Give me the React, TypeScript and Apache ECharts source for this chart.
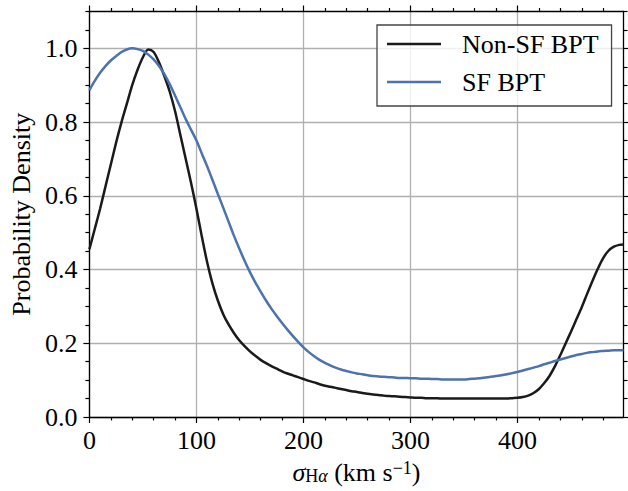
import { useEffect, useRef } from 'react';
import * as echarts from 'echarts';

const xValues = [
  0, 5, 10, 15, 20, 25, 30, 35, 40, 45, 50, 55, 60, 65, 70, 75, 80, 85, 90, 95,
  100, 105, 110, 115, 120, 125, 130, 135, 140, 145, 150, 155, 160, 165, 170, 175, 180, 185, 190, 195,
  200, 205, 210, 215, 220, 225, 230, 235, 240, 245, 250, 255, 260, 265, 270, 275, 280, 285, 290, 295,
  300, 305, 310, 315, 320, 325, 330, 335, 340, 345, 350, 355, 360, 365, 370, 375, 380, 385, 390, 395,
  400, 405, 410, 415, 420, 425, 430, 435, 440, 445, 450, 455, 460, 465, 470, 475, 480, 485, 490, 495, 499,
];

const nonSfBpt = [
  0.455, 0.51, 0.565, 0.625, 0.685, 0.745, 0.8, 0.85, 0.9, 0.942, 0.976, 0.997, 0.99, 0.962, 0.925, 0.883, 0.83, 0.765, 0.7, 0.635,
  0.565, 0.49, 0.42, 0.362, 0.316, 0.279, 0.251, 0.228, 0.208, 0.192, 0.178, 0.166, 0.155, 0.146, 0.138, 0.131, 0.124, 0.118, 0.113, 0.108,
  0.103, 0.098, 0.094, 0.089, 0.085, 0.082, 0.079, 0.076, 0.073, 0.07, 0.068, 0.065, 0.063, 0.061, 0.06, 0.058, 0.057, 0.056, 0.055, 0.054,
  0.053, 0.052, 0.052, 0.051, 0.051, 0.051, 0.05, 0.05, 0.05, 0.05, 0.05, 0.05, 0.05, 0.05, 0.05, 0.05, 0.05, 0.05, 0.05, 0.051,
  0.052, 0.054, 0.058, 0.065, 0.076, 0.092, 0.112, 0.138, 0.168, 0.2, 0.232, 0.265, 0.298, 0.334, 0.369, 0.402, 0.431, 0.451, 0.462, 0.467, 0.468,
];

const sfBpt = [
  0.887, 0.912, 0.934, 0.952, 0.967, 0.979, 0.99, 0.997, 1.0, 0.998, 0.993, 0.983, 0.97, 0.952, 0.93, 0.903, 0.872, 0.84, 0.808, 0.779,
  0.75, 0.715, 0.68, 0.643, 0.605, 0.568, 0.53, 0.492, 0.457, 0.424, 0.393, 0.365, 0.34, 0.316, 0.294, 0.274, 0.255, 0.237, 0.22, 0.204,
  0.189, 0.176, 0.165, 0.155, 0.147, 0.14, 0.134, 0.129, 0.125, 0.121, 0.118, 0.116, 0.113, 0.111, 0.11, 0.109, 0.108, 0.107, 0.106, 0.106,
  0.105, 0.105, 0.104, 0.104, 0.103, 0.103, 0.102, 0.102, 0.102, 0.102, 0.102, 0.103, 0.104, 0.105, 0.107, 0.109, 0.111, 0.113, 0.116, 0.119,
  0.122, 0.126, 0.13, 0.134, 0.138, 0.143, 0.147, 0.152, 0.156, 0.16, 0.164, 0.168, 0.171, 0.174, 0.176, 0.178, 0.179, 0.18, 0.181, 0.181, 0.181,
];

const seriesNames = ['Non-SF BPT', 'SF BPT'];
const xMajorTicks = [0, 100, 200, 300, 400];
const xMinorTicks = [20, 40, 60, 80, 120, 140, 160, 180, 220, 240, 260, 280, 320, 340, 360, 380, 420, 440, 460, 480];
const yMajorTicks = [0, 0.2, 0.4, 0.6, 0.8, 1.0];
const yMinorTicks = [0.05, 0.1, 0.15, 0.25, 0.3, 0.35, 0.45, 0.5, 0.55, 0.65, 0.7, 0.75, 0.85, 0.9, 0.95, 1.05, 1.1];

const X_MIN = 0;
const X_MAX = 499;
const Y_MIN = 0;
const Y_MAX = 1.1;

const FONT = 'Liberation Serif';
const SPINE = { color: '#000', width: 1.3 };

function makeAxis(kind: 'x' | 'y', position: string, ticks: number[], len: number, main: boolean, lineShow: boolean) {
  const isX = kind === 'x';
  const ax: any = {
    type: 'value',
    position,
    min: isX ? X_MIN : Y_MIN,
    max: isX ? X_MAX : Y_MAX,
    interval: isX ? 100 : 0.2,
    offset: 0,
    axisLine: { show: lineShow, onZero: false, lineStyle: SPINE },
    axisTick: { show: true, inside: false, length: len, customValues: ticks, lineStyle: { color: '#000', width: 1.2 } },
    axisLabel: { show: false },
    splitLine: { show: false },
    minorTick: { show: false },
  };
  if (main) {
    ax.axisLabel = {
      show: true,
      customValues: ticks,
      fontFamily: FONT,
      fontSize: 26,
      color: '#000',
      margin: isX ? 10 : 12,
      formatter: (v: number) => (isX ? String(Math.round(v)) : v.toFixed(1)),
    };
    ax.splitLine = { show: true, lineStyle: { color: '#b0b0b0', width: 1.3 } };
  }
  return ax;
}

export default function App() {
  const ref = useRef<HTMLDivElement>(null);

  useEffect(() => {
    document.body.style.margin = '0';
    if (!ref.current) return;
    const chart = echarts.init(ref.current, null, { renderer: 'svg' });

    const xMain = makeAxis('x', 'bottom', xMajorTicks, 6, true, true);
    xMain.name = '{s|σ}{h|H}{a|α}{t| (km s}{p|−1}{t|)}';
    xMain.nameLocation = 'middle';
    xMain.nameGap = 42;
    xMain.nameTextStyle = {
      fontFamily: FONT,
      fontSize: 26,
      color: '#000',
      rich: {
        s: { fontFamily: FONT, fontSize: 26, fontStyle: 'italic', lineHeight: 26, color: '#000' },
        h: { fontFamily: FONT, fontSize: 18, lineHeight: 14, verticalAlign: 'bottom', color: '#000' },
        a: { fontFamily: FONT, fontSize: 18, fontStyle: 'italic', lineHeight: 14, verticalAlign: 'bottom', color: '#000' },
        t: { fontFamily: FONT, fontSize: 26, lineHeight: 26, color: '#000' },
        p: { fontFamily: FONT, fontSize: 18, lineHeight: 14, verticalAlign: 'top', color: '#000' },
      },
    };

    const yMain = makeAxis('y', 'left', yMajorTicks, 6, true, true);
    yMain.name = 'Probability Density';
    yMain.nameLocation = 'middle';
    yMain.nameGap = 53;
    yMain.nameTextStyle = { fontFamily: FONT, fontSize: 26, color: '#000' };

    const option: any = {
      animation: false,
      backgroundColor: '#fff',
      textStyle: { fontFamily: FONT },
      grid: { left: 86, right: 4.5, top: 11.5, bottom: 74, containLabel: false },
      legend: {
        data: seriesNames,
        orient: 'vertical',
        left: 377,
        top: 25,
        icon: 'rect',
        itemWidth: 54,
        itemHeight: 2.5,
        itemGap: 12,
        padding: [6, 13, 11, 10],
        backgroundColor: 'rgba(255,255,255,0.8)',
        borderColor: '#444',
        borderWidth: 1.3,
        borderRadius: 0,
        selectedMode: false,
        textStyle: { fontFamily: FONT, fontSize: 26, lineHeight: 26, color: '#000', padding: [0, 0, 0, 16] },
      },
      xAxis: [
        xMain,
        makeAxis('x', 'bottom', xMinorTicks, 3.5, false, false),
        makeAxis('x', 'top', xMajorTicks, 6, false, true),
        makeAxis('x', 'top', xMinorTicks, 3.5, false, false),
      ],
      yAxis: [
        yMain,
        makeAxis('y', 'left', yMinorTicks, 4, false, false),
        makeAxis('y', 'right', yMajorTicks, 6, false, true),
        makeAxis('y', 'right', yMinorTicks, 4, false, false),
      ],
      series: [
        {
          name: seriesNames[0],
          type: 'line',
          xAxisIndex: 0,
          yAxisIndex: 0,
          data: xValues.map((x, i) => [x, nonSfBpt[i]]),
          showSymbol: false,
          symbol: 'none',
          smooth: 0.3,
          lineStyle: { color: '#1a1a1a', width: 2.5 },
          itemStyle: { color: '#1a1a1a' },
        },
        {
          name: seriesNames[1],
          type: 'line',
          xAxisIndex: 0,
          yAxisIndex: 0,
          data: xValues.map((x, i) => [x, sfBpt[i]]),
          showSymbol: false,
          symbol: 'none',
          smooth: 0.3,
          lineStyle: { color: '#4c72b0', width: 2.5 },
          itemStyle: { color: '#4c72b0' },
        },
      ],
    };
    chart.setOption(option);
    return () => chart.dispose();
  }, []);

  return <div ref={ref} style={{ width: 628, height: 491 }} />;
}
